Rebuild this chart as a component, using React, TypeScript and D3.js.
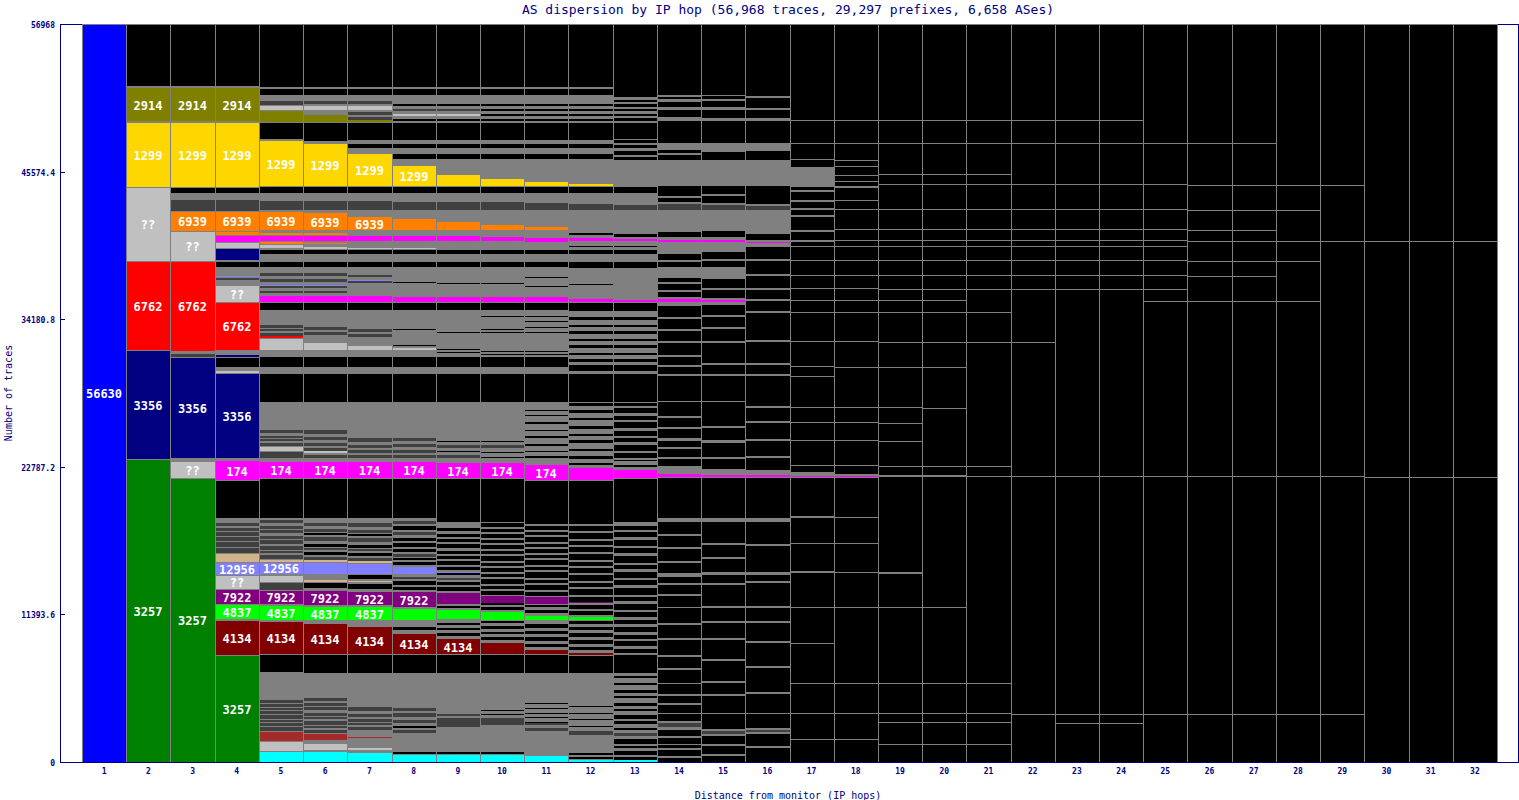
import React from "react";
import * as d3 from "d3";

type Seg = [number, string, string?];

const TITLE = "AS dispersion by IP hop (56,968 traces, 29,297 prefixes, 6,658 ASes)";
const X_LABEL = "Distance from monitor (IP hops)";
const Y_LABEL = "Number of traces";
const HOP_TOTAL = 56630;
const Y_TICK_LABELS = ["0", "11393.6", "22787.2", "34180.8", "45574.4", "56968"];
const HOPS = ["1","2","3","4","5","6","7","8","9","10","11","12","13","14","15","16","17","18","19","20","21","22","23","24","25","26","27","28","29","30","31","32"];

const COLORS: Record<string, string> = {
  B: "#0000ff", G: "#008000", N: "#000080", R: "#ff0000", L: "#c0c0c0", Y: "#ffd700",
  O: "#808000", o: "#ff8000", m: "#ff00ff", r: "#800000", l: "#00ff00", p: "#800080",
  v: "#8080ff", t: "#d2b48c", b: "#a52a2a", c: "#00ffff", d: "#404040", g: "#808080", K: "#000000",
};

// segments per hop, bottom to top: [traces, colour key, label]
const hop1: Seg[] = [[56630, "B", "56630"]];
const hop2: Seg[] = [[23249,"G","3257"],[8364,"N","3356"],[6829,"R","6762"],[5678,"L","??"],[4911,"Y","1299"],[153,"g"],[2532,"O","2914"],[153,"g"]];
const hop3: Seg[] = [[21791,"G","3257"],[1228,"L","??"],[307,"g"],[7750,"N","3356"],[230,"d"],[230,"g"],[6906,"R","6762"],[2302,"L","??"],[1535,"o","6939"],[844,"d"],[537,"g"],[460,"K"],[4911,"Y","1299"],[153,"g"],[2532,"O","2914"],[153,"g"]];
const hop4: Seg[] = [[8210,"G","3257"],[2609,"r","4134"],[153,"g"],[1074,"l","4837"],[77,"g"],[1151,"p","7922"],[1074,"L","??"],[997,"v","12956"],[691,"t"],[460,"d"],[460,"d"],[384,"d"],[384,"d"],[230,"d"],[153,"g"],[230,"d"],[153,"g"],[230,"g"],[2916,"K"],[1458,"m","174"],[230,"g"],[6522,"N","3356"],[153,"L"],[307,"g"],[767,"K"],[153,"N"],[384,"g"],[3683,"R","6762"],[1228,"L","??"],[460,"g"],[230,"d"],[77,"v"],[691,"g"],[384,"K"],[153,"g"],[921,"N"],[460,"L"],[537,"m"],[230,"o"],[77,"g"],[1535,"o","6939"],[844,"d"],[537,"g"],[460,"K"],[4911,"Y","1299"],[153,"g"],[2532,"O","2914"],[153,"g"]];
const hop5: Seg[] = [[844,"c"],[767,"L"],[767,"b"],[384,"d"],[307,"d"],[230,"d"],[384,"d"],[307,"d"],[230,"d"],[307,"d"],[230,"d"],[230,"g"],[1918,"g"],[1381,"K"],[2455,"r","4134"],[153,"g"],[1074,"l","4837"],[153,"g"],[1074,"p","7922"],[614,"d"],[460,"L"],[153,"g"],[921,"v","12956"],[230,"t"],[307,"d"],[153,"g"],[230,"d"],[307,"d"],[153,"g"],[384,"d"],[230,"d"],[230,"g"],[307,"d"],[230,"d"],[230,"g"],[230,"d"],[153,"g"],[3069,"K"],[1228,"m","174"],[307,"g"],[537,"d"],[384,"L"],[230,"d"],[153,"g"],[230,"d"],[153,"d"],[230,"g"],[230,"d"],[230,"g"],[1918,"g"],[2148,"K"],[537,"g"],[767,"K"],[537,"g"],[921,"L"],[153,"R"],[230,"d"],[153,"g"],[230,"d"],[230,"d"],[230,"g"],[921,"g"],[614,"K"],[460,"m"],[230,"g"],[153,"d"],[230,"g"],[153,"d"],[77,"v"],[230,"g"],[230,"d"],[230,"g"],[230,"d"],[460,"g"],[384,"K"],[614,"g"],[307,"K"],[153,"g"],[230,"L"],[77,"g"],[153,"o"],[77,"g"],[384,"m"],[77,"g"],[153,"o"],[230,"g"],[1381,"o","6939"],[153,"g"],[691,"d"],[614,"g"],[460,"K"],[77,"g"],[3453,"Y","1299"],[153,"g"],[1228,"K"],[77,"g"],[844,"O"],[77,"g"],[384,"L"],[307,"d"],[460,"g"],[460,"K"],[153,"g"]];
const hop6: Seg[] = [[767,"c"],[153,"g"],[460,"L"],[307,"g"],[537,"b"],[230,"d"],[153,"g"],[230,"d"],[307,"d"],[153,"g"],[230,"d"],[230,"d"],[230,"g"],[307,"d"],[230,"d"],[153,"g"],[230,"d"],[1918,"g"],[1458,"K"],[2302,"r","4134"],[307,"g"],[997,"l","4837"],[153,"g"],[1074,"p","7922"],[230,"g"],[460,"K"],[153,"t"],[460,"g"],[921,"v"],[153,"t"],[230,"d"],[153,"g"],[230,"K"],[153,"g"],[230,"d"],[230,"K"],[230,"g"],[307,"d"],[153,"g"],[230,"K"],[230,"d"],[230,"g"],[230,"d"],[153,"g"],[230,"g"],[3069,"K"],[1228,"m","174"],[307,"g"],[230,"d"],[153,"g"],[153,"L"],[230,"d"],[153,"g"],[230,"d"],[230,"g"],[230,"d"],[230,"g"],[307,"d"],[230,"g"],[1918,"g"],[2148,"K"],[537,"g"],[767,"K"],[537,"g"],[537,"L"],[614,"g"],[230,"d"],[153,"g"],[230,"d"],[1304,"g"],[614,"K"],[460,"m"],[230,"g"],[153,"d"],[230,"g"],[153,"d"],[77,"v"],[230,"g"],[230,"d"],[230,"g"],[230,"d"],[460,"g"],[384,"K"],[614,"g"],[307,"K"],[77,"g"],[153,"L"],[230,"g"],[77,"o"],[153,"g"],[384,"m"],[77,"g"],[153,"o"],[230,"g"],[1304,"o","6939"],[230,"g"],[691,"d"],[614,"g"],[460,"K"],[77,"g"],[3223,"Y","1299"],[230,"g"],[1381,"K"],[77,"g"],[537,"O"],[384,"g"],[307,"L"],[153,"g"],[230,"d"],[460,"g"],[460,"K"],[153,"g"]];
const hop7: Seg[] = [[691,"c"],[230,"g"],[153,"L"],[767,"g"],[77,"b"],[537,"g"],[230,"d"],[153,"g"],[230,"d"],[230,"d"],[153,"g"],[230,"d"],[230,"g"],[307,"d"],[2609,"g"],[1458,"K"],[2072,"r","4134"],[537,"g"],[997,"l","4837"],[153,"g"],[997,"p","7922"],[230,"g"],[384,"K"],[153,"g"],[77,"t"],[153,"g"],[307,"K"],[77,"g"],[767,"v"],[77,"g"],[153,"t"],[230,"d"],[153,"g"],[230,"K"],[153,"g"],[230,"d"],[230,"K"],[230,"g"],[307,"d"],[153,"g"],[230,"K"],[230,"d"],[230,"g"],[307,"d"],[153,"g"],[230,"g"],[3069,"K"],[1228,"m","174"],[307,"g"],[230,"d"],[153,"g"],[230,"d"],[153,"g"],[230,"d"],[230,"g"],[307,"d"],[2762,"g"],[2148,"K"],[537,"g"],[767,"K"],[537,"g"],[307,"L"],[691,"g"],[230,"d"],[153,"g"],[230,"d"],[153,"g"],[1304,"g"],[614,"K"],[460,"m"],[997,"g"],[153,"d"],[77,"v"],[230,"g"],[153,"d"],[153,"g"],[460,"g"],[384,"K"],[614,"g"],[307,"K"],[77,"g"],[77,"L"],[537,"g"],[384,"m"],[460,"g"],[997,"o","6939"],[537,"g"],[691,"d"],[614,"g"],[460,"K"],[77,"g"],[2455,"Y","1299"],[460,"g"],[307,"K"],[307,"g"],[1304,"K"],[77,"g"],[153,"O"],[230,"d"],[153,"g"],[230,"d"],[153,"g"],[307,"L"],[153,"g"],[230,"d"],[460,"g"],[460,"K"],[153,"g"]];
const hop8: Seg[] = [[614,"c"],[153,"K"],[1458,"g"],[230,"d"],[153,"g"],[153,"K"],[230,"g"],[230,"d"],[230,"g"],[307,"d"],[153,"g"],[230,"d"],[2686,"g"],[1458,"K"],[1535,"r","4134"],[307,"g"],[230,"K"],[537,"g"],[844,"l"],[153,"g"],[1151,"p","7922"],[153,"g"],[230,"K"],[153,"g"],[307,"K"],[153,"g"],[153,"d"],[230,"g"],[537,"v"],[153,"g"],[230,"K"],[153,"g"],[230,"K"],[230,"d"],[153,"g"],[230,"K"],[153,"g"],[307,"K"],[153,"g"],[230,"K"],[230,"g"],[230,"d"],[153,"g"],[307,"K"],[153,"g"],[230,"d"],[230,"g"],[3069,"K"],[1228,"m","174"],[307,"g"],[230,"d"],[153,"g"],[230,"d"],[230,"g"],[230,"d"],[230,"g"],[230,"d"],[2762,"g"],[2148,"K"],[537,"g"],[767,"K"],[537,"g"],[153,"L"],[153,"g"],[77,"K"],[153,"g"],[997,"g"],[77,"K"],[1458,"g"],[614,"K"],[384,"m"],[1074,"g"],[77,"K"],[230,"g"],[921,"g"],[384,"K"],[614,"g"],[307,"K"],[77,"g"],[77,"L"],[537,"g"],[384,"m"],[460,"g"],[844,"o"],[691,"g"],[614,"d"],[691,"g"],[460,"K"],[77,"g"],[1535,"Y","1299"],[537,"g"],[384,"K"],[460,"g"],[307,"K"],[307,"g"],[1304,"K"],[153,"g"],[153,"K"],[230,"g"],[153,"L"],[230,"g"],[153,"d"],[230,"g"],[153,"K"],[230,"g"],[460,"g"],[460,"K"],[153,"g"]];
const hop9: Seg[] = [[614,"c"],[153,"K"],[1842,"g"],[77,"g"],[691,"d"],[153,"g"],[153,"d"],[153,"g"],[2992,"g"],[1458,"K"],[1151,"r","4134"],[230,"g"],[230,"K"],[230,"g"],[153,"K"],[230,"g"],[153,"K"],[307,"g"],[691,"l"],[153,"g"],[153,"K"],[153,"g"],[844,"p"],[153,"g"],[307,"K"],[153,"g"],[230,"K"],[153,"g"],[153,"d"],[230,"g"],[153,"K"],[77,"v"],[153,"g"],[230,"K"],[153,"g"],[307,"K"],[153,"g"],[230,"K"],[153,"g"],[230,"K"],[230,"g"],[307,"K"],[153,"g"],[230,"K"],[153,"g"],[230,"K"],[230,"g"],[230,"K"],[460,"g"],[3376,"K"],[1151,"m","174"],[384,"g"],[230,"d"],[230,"g"],[77,"K"],[230,"g"],[230,"d"],[230,"g"],[77,"K"],[307,"g"],[2686,"g"],[2148,"K"],[537,"g"],[767,"K"],[307,"g"],[77,"K"],[153,"g"],[77,"K"],[307,"g"],[921,"g"],[77,"K"],[153,"g"],[1535,"g"],[614,"K"],[384,"m"],[997,"g"],[77,"K"],[230,"g"],[997,"g"],[384,"K"],[614,"g"],[307,"K"],[691,"g"],[384,"m"],[460,"g"],[614,"o"],[921,"g"],[614,"d"],[691,"g"],[460,"K"],[77,"g"],[844,"Y"],[1228,"g"],[384,"K"],[460,"g"],[307,"K"],[307,"g"],[1304,"K"],[153,"g"],[153,"K"],[230,"g"],[153,"L"],[230,"g"],[153,"d"],[230,"g"],[153,"K"],[230,"g"],[460,"g"],[460,"K"],[153,"g"]];
const hop10: Seg[] = [[537,"c"],[77,"g"],[153,"K"],[2072,"g"],[537,"d"],[230,"g"],[77,"K"],[230,"g"],[77,"K"],[307,"g"],[2532,"g"],[1458,"K"],[844,"r"],[230,"g"],[230,"K"],[230,"g"],[153,"K"],[230,"g"],[230,"K"],[230,"g"],[230,"K"],[614,"l"],[153,"g"],[230,"K"],[153,"g"],[153,"K"],[614,"p"],[307,"K"],[153,"g"],[230,"K"],[153,"g"],[384,"K"],[153,"g"],[230,"K"],[153,"g"],[307,"K"],[153,"g"],[230,"K"],[153,"g"],[384,"K"],[153,"g"],[230,"K"],[153,"g"],[307,"K"],[153,"g"],[230,"K"],[153,"g"],[307,"K"],[153,"g"],[230,"K"],[153,"g"],[307,"K"],[77,"g"],[3376,"K"],[1151,"m","174"],[384,"g"],[77,"K"],[307,"g"],[77,"K"],[307,"g"],[230,"d"],[230,"g"],[77,"K"],[460,"g"],[2532,"g"],[2148,"K"],[537,"g"],[767,"K"],[153,"g"],[77,"K"],[153,"g"],[77,"K"],[307,"g"],[1074,"g"],[77,"K"],[153,"g"],[77,"K"],[230,"g"],[691,"g"],[77,"K"],[460,"g"],[614,"K"],[384,"m"],[997,"g"],[77,"K"],[230,"g"],[997,"g"],[384,"K"],[614,"g"],[307,"K"],[691,"g"],[307,"m"],[537,"g"],[384,"o"],[1151,"g"],[614,"d"],[691,"g"],[460,"K"],[77,"g"],[537,"Y"],[1535,"g"],[384,"K"],[460,"g"],[307,"K"],[307,"g"],[1304,"K"],[153,"g"],[153,"K"],[230,"g"],[153,"K"],[230,"g"],[153,"K"],[230,"g"],[153,"K"],[230,"g"],[460,"g"],[460,"K"],[153,"g"]];
const hop11: Seg[] = [[460,"c"],[1918,"g"],[230,"d"],[230,"g"],[153,"d"],[77,"K"],[307,"g"],[77,"K"],[230,"g"],[77,"K"],[307,"g"],[77,"K"],[307,"g"],[77,"K"],[230,"g"],[2072,"g"],[1458,"K"],[307,"r"],[230,"g"],[230,"K"],[230,"g"],[307,"K"],[230,"g"],[230,"K"],[230,"g"],[307,"K"],[307,"g"],[307,"l"],[230,"g"],[230,"K"],[230,"g"],[230,"K"],[614,"p"],[307,"K"],[153,"g"],[384,"K"],[153,"g"],[230,"K"],[153,"g"],[460,"K"],[153,"g"],[230,"K"],[153,"g"],[384,"K"],[153,"g"],[230,"K"],[153,"g"],[307,"K"],[153,"g"],[230,"K"],[153,"g"],[384,"K"],[153,"g"],[230,"K"],[153,"g"],[307,"K"],[153,"g"],[153,"K"],[3223,"K"],[1151,"m","174"],[537,"g"],[153,"K"],[307,"g"],[77,"K"],[384,"g"],[153,"K"],[460,"g"],[153,"K"],[384,"g"],[77,"K"],[460,"g"],[153,"K"],[460,"g"],[77,"K"],[307,"g"],[77,"K"],[614,"g"],[2148,"K"],[537,"g"],[767,"K"],[153,"g"],[77,"K"],[153,"g"],[77,"K"],[307,"g"],[1074,"g"],[77,"K"],[307,"g"],[77,"K"],[384,"g"],[77,"K"],[307,"g"],[77,"K"],[460,"g"],[614,"K"],[384,"m"],[767,"g"],[77,"K"],[614,"g"],[77,"K"],[767,"g"],[384,"K"],[614,"g"],[307,"K"],[614,"g"],[307,"m"],[614,"g"],[230,"o"],[1304,"g"],[537,"d"],[767,"g"],[460,"K"],[77,"g"],[307,"Y"],[1765,"g"],[384,"K"],[460,"g"],[307,"K"],[307,"g"],[1304,"K"],[153,"g"],[153,"K"],[230,"g"],[153,"K"],[230,"g"],[153,"K"],[230,"g"],[153,"K"],[230,"g"],[460,"g"],[460,"K"],[153,"g"]];
const hop12: Seg[] = [[230,"c"],[153,"K"],[153,"g"],[153,"K"],[230,"g"],[1151,"g"],[307,"d"],[307,"g"],[77,"K"],[460,"g"],[77,"K"],[384,"g"],[77,"K"],[460,"g"],[77,"K"],[460,"g"],[2072,"g"],[1381,"K"],[153,"r"],[230,"g"],[230,"K"],[230,"g"],[307,"K"],[230,"g"],[307,"K"],[230,"g"],[230,"K"],[230,"g"],[307,"K"],[230,"l"],[153,"g"],[307,"K"],[153,"g"],[307,"K"],[153,"g"],[77,"p"],[384,"K"],[153,"g"],[460,"K"],[153,"g"],[307,"K"],[153,"g"],[460,"K"],[153,"g"],[384,"K"],[153,"g"],[307,"K"],[153,"g"],[460,"K"],[153,"g"],[384,"K"],[153,"g"],[307,"K"],[153,"g"],[460,"K"],[153,"g"],[384,"K"],[153,"g"],[153,"K"],[3223,"K"],[921,"m"],[230,"g"],[153,"K"],[307,"g"],[230,"K"],[384,"g"],[153,"K"],[460,"g"],[230,"K"],[307,"g"],[153,"K"],[384,"g"],[230,"K"],[460,"g"],[153,"K"],[384,"g"],[230,"K"],[307,"g"],[307,"K"],[2148,"K"],[230,"g"],[460,"K"],[230,"g"],[230,"K"],[307,"g"],[153,"K"],[384,"g"],[230,"K"],[307,"g"],[153,"K"],[384,"g"],[230,"K"],[307,"g"],[153,"K"],[384,"g"],[230,"K"],[460,"g"],[77,"K"],[614,"K"],[230,"m"],[1074,"g"],[77,"K"],[1228,"g"],[460,"K"],[614,"g"],[307,"K"],[230,"g"],[77,"K"],[384,"g"],[230,"m"],[230,"g"],[153,"K"],[230,"g"],[1535,"g"],[460,"d"],[844,"g"],[460,"K"],[77,"g"],[153,"Y"],[1918,"g"],[384,"K"],[460,"g"],[307,"K"],[307,"g"],[1304,"K"],[153,"g"],[153,"K"],[230,"g"],[153,"K"],[230,"g"],[153,"K"],[230,"g"],[153,"K"],[230,"g"],[460,"g"],[460,"K"],[153,"g"]];
const hop13: Seg[] = [[153,"c"],[230,"K"],[153,"g"],[307,"K"],[230,"g"],[153,"K"],[153,"g"],[384,"K"],[230,"g"],[230,"d"],[230,"g"],[153,"K"],[307,"g"],[230,"K"],[153,"g"],[307,"K"],[307,"g"],[153,"K"],[230,"g"],[230,"K"],[384,"g"],[153,"K"],[230,"g"],[230,"K"],[384,"g"],[153,"K"],[384,"g"],[153,"K"],[230,"g"],[1381,"K"],[153,"g"],[307,"K"],[230,"g"],[384,"K"],[153,"g"],[307,"K"],[230,"g"],[384,"K"],[230,"g"],[307,"K"],[230,"g"],[384,"K"],[153,"g"],[460,"K"],[230,"g"],[307,"K"],[153,"g"],[537,"K"],[230,"g"],[384,"K"],[153,"g"],[460,"K"],[230,"g"],[307,"K"],[153,"g"],[537,"K"],[230,"g"],[384,"K"],[153,"g"],[460,"K"],[230,"g"],[384,"K"],[153,"g"],[307,"K"],[307,"g"],[3376,"K"],[614,"m"],[230,"g"],[153,"K"],[307,"g"],[77,"K"],[153,"g"],[384,"K"],[153,"g"],[460,"K"],[230,"g"],[307,"K"],[153,"g"],[384,"K"],[230,"g"],[460,"K"],[153,"g"],[307,"K"],[230,"g"],[384,"K"],[153,"g"],[307,"K"],[2148,"K"],[230,"g"],[460,"K"],[230,"g"],[230,"K"],[307,"g"],[153,"K"],[384,"g"],[230,"K"],[307,"g"],[153,"K"],[384,"g"],[230,"K"],[307,"g"],[153,"K"],[384,"g"],[230,"K"],[460,"g"],[77,"K"],[614,"K"],[153,"m"],[2455,"g"],[460,"K"],[614,"g"],[307,"K"],[230,"g"],[77,"K"],[384,"g"],[153,"m"],[153,"g"],[230,"K"],[307,"g"],[1535,"g"],[384,"d"],[921,"g"],[460,"K"],[2072,"g"],[230,"K"],[153,"g"],[307,"K"],[230,"g"],[230,"K"],[153,"g"],[307,"K"],[1228,"K"],[153,"g"],[230,"K"],[153,"g"],[153,"K"],[230,"g"],[153,"K"],[153,"g"],[230,"K"],[153,"g"],[153,"K"],[230,"g"]];
const hop14: Seg[] = [[307,"K"],[153,"g"],[460,"K"],[153,"g"],[230,"K"],[77,"g"],[460,"K"],[153,"g"],[460,"K"],[230,"g"],[307,"d"],[153,"g"],[537,"K"],[77,"g"],[614,"K"],[153,"g"],[537,"K"],[153,"g"],[767,"K"],[77,"g"],[997,"K"],[153,"g"],[844,"K"],[153,"g"],[1151,"K"],[153,"g"],[997,"K"],[153,"g"],[1151,"K"],[77,"g"],[844,"K"],[153,"g"],[691,"K"],[153,"g"],[460,"K"],[307,"g"],[767,"K"],[153,"g"],[921,"K"],[153,"g"],[844,"K"],[153,"g"],[921,"K"],[307,"g"],[3146,"K"],[230,"m"],[614,"g"],[537,"K"],[153,"g"],[614,"K"],[153,"g"],[460,"K"],[230,"g"],[691,"K"],[153,"g"],[691,"K"],[153,"g"],[1074,"K"],[77,"g"],[1918,"K"],[153,"g"],[537,"K"],[153,"g"],[614,"K"],[153,"g"],[921,"K"],[153,"g"],[767,"K"],[153,"g"],[767,"K"],[153,"g"],[844,"K"],[307,"g"],[230,"m"],[153,"g"],[384,"K"],[153,"g"],[460,"K"],[153,"g"],[307,"K"],[844,"g"],[384,"K"],[153,"g"],[460,"K"],[921,"g"],[153,"m"],[230,"g"],[384,"K"],[1688,"g"],[460,"d"],[153,"g"],[307,"K"],[153,"g"],[767,"K"],[1995,"g"],[384,"K"],[153,"g"],[230,"K"],[537,"g"],[1688,"K"],[307,"g"],[537,"K"],[230,"g"],[384,"K"],[230,"g"],[153,"K"],[153,"g"]];
const hop15: Seg[] = [[460,"K"],[153,"g"],[614,"K"],[153,"g"],[614,"K"],[153,"g"],[230,"d"],[153,"g"],[1151,"K"],[77,"g"],[1304,"K"],[153,"g"],[844,"K"],[153,"g"],[1535,"K"],[153,"g"],[1458,"K"],[153,"g"],[1151,"K"],[153,"g"],[997,"K"],[153,"g"],[1611,"K"],[153,"g"],[614,"K"],[230,"g"],[997,"K"],[153,"g"],[921,"K"],[153,"g"],[1611,"K"],[307,"g"],[3146,"K"],[153,"m"],[460,"g"],[767,"K"],[153,"g"],[1074,"K"],[230,"g"],[921,"K"],[153,"g"],[1842,"K"],[77,"g"],[1918,"K"],[153,"g"],[691,"K"],[153,"g"],[1535,"K"],[153,"g"],[921,"K"],[153,"g"],[767,"K"],[153,"g"],[767,"K"],[230,"g"],[153,"m"],[153,"g"],[614,"K"],[153,"g"],[691,"K"],[921,"g"],[460,"K"],[153,"g"],[537,"K"],[767,"g"],[153,"m"],[230,"g"],[460,"K"],[1611,"g"],[384,"d"],[153,"g"],[537,"K"],[153,"g"],[614,"K"],[1995,"g"],[614,"K"],[691,"g"],[1688,"K"],[230,"g"],[614,"K"],[230,"g"],[460,"K"],[153,"g"],[230,"K"],[77,"g"]];
const hop16: Seg[] = [[1074,"K"],[153,"g"],[921,"K"],[153,"g"],[153,"d"],[153,"g"],[1074,"K"],[77,"g"],[1458,"K"],[153,"g"],[1842,"K"],[153,"g"],[1765,"K"],[153,"g"],[1381,"K"],[153,"g"],[997,"K"],[153,"g"],[1765,"K"],[153,"g"],[460,"K"],[230,"g"],[1995,"K"],[153,"g"],[1688,"K"],[307,"g"],[3146,"K"],[153,"m"],[384,"g"],[921,"K"],[153,"g"],[1151,"K"],[153,"g"],[1228,"K"],[153,"g"],[997,"K"],[153,"g"],[2302,"K"],[153,"g"],[691,"K"],[153,"g"],[1611,"K"],[153,"g"],[2072,"K"],[153,"g"],[767,"K"],[153,"g"],[691,"K"],[153,"g"],[921,"K"],[153,"g"],[997,"K"],[153,"g"],[921,"K"],[307,"g"],[77,"m"],[153,"g"],[460,"K"],[1842,"g"],[307,"d"],[153,"g"],[1381,"K"],[1995,"g"],[691,"K"],[614,"g"],[1688,"K"],[230,"g"],[614,"K"],[153,"g"],[767,"K"],[153,"g"]];
const hop17: Seg[] = [[1688,"K"],[77,"g"],[1918,"K"],[77,"g"],[2225,"K"],[77,"g"],[2992,"K"],[77,"g"],[2686,"K"],[77,"g"],[2609,"K"],[153,"g"],[2072,"K"],[77,"g"],[1918,"K"],[153,"g"],[2992,"K"],[77,"m"],[307,"g"],[460,"K"],[77,"g"],[1842,"K"],[77,"g"],[1304,"K"],[77,"g"],[1074,"K"],[77,"g"],[2302,"K"],[77,"g"],[691,"K"],[77,"g"],[1842,"K"],[77,"g"],[2148,"K"],[77,"g"],[844,"K"],[77,"g"],[844,"K"],[77,"g"],[921,"K"],[77,"g"],[1074,"K"],[77,"g"],[997,"K"],[77,"g"],[307,"K"],[153,"g"],[614,"K"],[153,"g"],[997,"K"],[153,"g"],[384,"K"],[153,"g"],[460,"K"],[153,"g"],[614,"K"],[153,"g"],[230,"K"],[1535,"g"],[537,"K"],[77,"g"],[1151,"K"],[77,"g"],[1688,"K"],[77,"g"]];
const hop18: Seg[] = [[1688,"K"],[77,"g"],[1918,"K"],[77,"g"],[2225,"K"],[77,"g"],[5755,"K"],[77,"g"],[2609,"K"],[77,"g"],[2148,"K"],[77,"g"],[1918,"K"],[77,"g"],[3069,"K"],[77,"m"],[153,"g"],[614,"K"],[77,"g"],[1842,"K"],[77,"g"],[1304,"K"],[77,"g"],[1074,"K"],[77,"g"],[2992,"K"],[77,"g"],[1918,"K"],[77,"g"],[2148,"K"],[77,"g"],[844,"K"],[77,"g"],[844,"K"],[77,"g"],[921,"K"],[77,"g"],[1074,"K"],[77,"g"],[997,"K"],[77,"g"],[384,"K"],[77,"g"],[767,"K"],[77,"g"],[1458,"K"],[77,"g"],[614,"K"],[77,"g"],[921,"K"],[153,"g"],[307,"K"],[77,"g"],[384,"K"],[77,"g"],[614,"K"],[77,"g"],[384,"K"],[77,"g"],[1228,"K"],[77,"g"],[1688,"K"],[77,"g"]];
const hop19: Seg[] = [[1304,"K"],[77,"g"],[1611,"K"],[77,"g"],[614,"K"],[77,"g"],[2225,"K"],[77,"g"],[5755,"K"],[77,"g"],[2532,"K"],[153,"g"],[7289,"K"],[153,"g"],[614,"K"],[77,"g"],[1842,"K"],[77,"g"],[1304,"K"],[77,"g"],[1151,"K"],[77,"g"],[2992,"K"],[77,"g"],[1842,"K"],[77,"g"],[2225,"K"],[77,"g"],[844,"K"],[77,"g"],[767,"K"],[77,"g"],[997,"K"],[77,"g"],[1074,"K"],[77,"g"],[997,"K"],[77,"g"],[384,"K"],[77,"g"],[767,"K"],[77,"g"],[1458,"K"],[77,"g"],[1842,"K"],[77,"g"],[691,"K"],[77,"g"],[2302,"K"],[77,"g"],[1688,"K"],[77,"g"]];
const hop20: Seg[] = [[1304,"K"],[77,"g"],[1611,"K"],[77,"g"],[614,"K"],[77,"g"],[2225,"K"],[77,"g"],[5755,"K"],[77,"g"],[9975,"K"],[153,"g"],[614,"K"],[77,"g"],[4374,"K"],[77,"g"],[3069,"K"],[77,"g"],[1842,"K"],[77,"g"],[2225,"K"],[77,"g"],[844,"K"],[77,"g"],[767,"K"],[77,"g"],[997,"K"],[77,"g"],[1074,"K"],[77,"g"],[997,"K"],[77,"g"],[384,"K"],[77,"g"],[767,"K"],[77,"g"],[1458,"K"],[77,"g"],[1842,"K"],[77,"g"],[691,"K"],[77,"g"],[2302,"K"],[77,"g"],[1688,"K"],[77,"g"]];
const hop21: Seg[] = [[1304,"K"],[77,"g"],[1611,"K"],[77,"g"],[614,"K"],[77,"g"],[2225,"K"],[77,"g"],[15806,"K"],[77,"g"],[691,"K"],[77,"g"],[9438,"K"],[77,"g"],[2225,"K"],[77,"g"],[1688,"K"],[77,"g"],[997,"K"],[77,"g"],[1074,"K"],[77,"g"],[997,"K"],[77,"g"],[384,"K"],[77,"g"],[767,"K"],[77,"g"],[1458,"K"],[77,"g"],[1842,"K"],[77,"g"],[691,"K"],[77,"g"],[2302,"K"],[77,"g"],[1688,"K"],[77,"g"]];
const hop22: Seg[] = [[3606,"K"],[77,"g"],[18185,"K"],[77,"g"],[10205,"K"],[77,"g"],[4000,"K"],[77,"g"],[997,"K"],[77,"g"],[1074,"K"],[77,"g"],[997,"K"],[77,"g"],[384,"K"],[77,"g"],[767,"K"],[77,"g"],[1458,"K"],[77,"g"],[1842,"K"],[77,"g"],[3069,"K"],[77,"g"],[1688,"K"],[77,"g"]];
const hop23: Seg[] = [[2916,"K"],[77,"g"],[614,"K"],[77,"g"],[18185,"K"],[77,"g"],[14272,"K"],[77,"g"],[997,"K"],[77,"g"],[1074,"K"],[77,"g"],[997,"K"],[77,"g"],[384,"K"],[77,"g"],[767,"K"],[77,"g"],[1458,"K"],[77,"g"],[1842,"K"],[77,"g"],[3069,"K"],[77,"g"],[1688,"K"],[77,"g"]];
const hop24: Seg[] = [[2916,"K"],[77,"g"],[614,"K"],[77,"g"],[18185,"K"],[77,"g"],[14272,"K"],[77,"g"],[997,"K"],[77,"g"],[1074,"K"],[77,"g"],[997,"K"],[77,"g"],[384,"K"],[77,"g"],[767,"K"],[77,"g"],[1458,"K"],[77,"g"],[1842,"K"],[77,"g"],[3069,"K"],[77,"g"],[1688,"K"],[77,"g"]];
const hop25: Seg[] = [[3606,"K"],[77,"g"],[18185,"K"],[77,"g"],[13351,"K"],[77,"g"],[844,"K"],[77,"g"],[997,"K"],[77,"g"],[1074,"K"],[77,"g"],[997,"K"],[77,"g"],[384,"K"],[77,"g"],[767,"K"],[77,"g"],[1458,"K"],[77,"g"],[1842,"K"],[77,"g"],[3069,"K"],[77,"g"]];
const hop26: Seg[] = [[3606,"K"],[77,"g"],[18185,"K"],[77,"g"],[13351,"K"],[77,"g"],[1842,"K"],[77,"g"],[1074,"K"],[77,"g"],[1458,"K"],[77,"g"],[767,"K"],[77,"g"],[1458,"K"],[77,"g"],[1842,"K"],[77,"g"],[3146,"K"],[77,"g"]];
const hop27: Seg[] = [[3606,"K"],[77,"g"],[18185,"K"],[77,"g"],[13351,"K"],[77,"g"],[1842,"K"],[77,"g"],[1074,"K"],[77,"g"],[1458,"K"],[77,"g"],[767,"K"],[77,"g"],[1458,"K"],[77,"g"],[1842,"K"],[77,"g"],[3146,"K"],[77,"g"]];
const hop28: Seg[] = [[3606,"K"],[77,"g"],[18185,"K"],[77,"g"],[13351,"K"],[77,"g"],[2992,"K"],[77,"g"],[1458,"K"],[77,"g"],[2302,"K"],[77,"g"],[1842,"K"],[77,"g"]];
const hop29: Seg[] = [[3606,"K"],[77,"g"],[18185,"K"],[77,"g"],[17955,"K"],[77,"g"],[4220,"K"],[77,"g"]];
const hop30: Seg[] = [[21791,"K"],[77,"g"],[18032,"K"],[77,"g"]];
const hop31: Seg[] = [[21791,"K"],[77,"g"],[18032,"K"],[77,"g"]];
const hop32: Seg[] = [[21791,"K"],[77,"g"],[18032,"K"],[77,"g"]];

const COLUMNS: Seg[][] = [hop1,hop2,hop3,hop4,hop5,hop6,hop7,hop8,hop9,hop10,hop11,hop12,hop13,hop14,hop15,hop16,hop17,hop18,hop19,hop20,hop21,hop22,hop23,hop24,hop25,hop26,hop27,hop28,hop29,hop30,hop31,hop32];

const AXIS = "#000080";
const GRID = "#808080";
const MONO = "'DejaVu Sans Mono', 'Liberation Mono', monospace";

export default function App() {
  const W = 1519, H = 800;
  const left = 60, right = 1518, top = 24, bottom = 762;
  const x = d3.scaleBand<string>().domain(HOPS).range([82, 1497]).padding(0);
  const y = d3.scaleLinear().domain([0, HOP_TOTAL]).range([bottom, top]);

  const fills: JSX.Element[] = [];
  const seps: JSX.Element[] = [];
  const labels: JSX.Element[] = [];
  const bgs: JSX.Element[] = [];
  const vlines: JSX.Element[] = [];

  COLUMNS.forEach((segs, i) => {
    const hop = HOPS[i];
    const x0 = Math.round(x(hop)!);
    const x1 = Math.round(x(hop)! + x.bandwidth());
    bgs.push(<rect key={"bg" + i} x={x0} y={top} width={x1 - x0} height={bottom - top} fill="#000" />);
    vlines.push(<rect key={"vl" + i} x={x0} y={top} width={1} height={bottom - top} fill={GRID} />);
    let cum = 0;
    const boxes = segs.map(([v, code, label]) => {
      const b = { y0: Math.round(y(cum + v)), y1: Math.round(y(cum)), code, label };
      cum += v;
      return b;
    });
    boxes.forEach((b, j) => {
      const h = b.y1 - b.y0;
      if (h <= 0) return;
      fills.push(<rect key={`f${i}-${j}`} x={x0} y={b.y0} width={x1 - x0} height={h} fill={COLORS[b.code]} />);
      const next = boxes[j + 1];
      if (b.code !== "g" && h >= 3 && (!next || next.code !== "g")) {
        seps.push(<rect key={`s${i}-${j}`} x={x0} y={b.y0} width={x1 - x0} height={1} fill={GRID} />);
      }
      if (b.label) {
        labels.push(
          <text key={`t${i}-${j}`} x={(x0 + x1) / 2} y={(b.y0 + b.y1) / 2 + 1} fill="#fff" fontFamily={MONO}
            fontWeight="bold" fontSize={12} textAnchor="middle" dominantBaseline="central">{b.label}</text>
        );
      }
    });
  });
  vlines.push(<rect key="vlast" x={1497} y={top} width={1} height={bottom - top} fill={GRID} />);

  const tickVals = Y_TICK_LABELS.map((_, i) => (HOP_TOTAL * i) / (Y_TICK_LABELS.length - 1));

  return (
    <svg width={W} height={H} style={{ position: "absolute", left: 0, top: 0, display: "block" }} shapeRendering="crispEdges">
      <rect x={0} y={0} width={W} height={H} fill="#fff" />
      <text x={788} y={9} textAnchor="middle" dominantBaseline="central" fontFamily={MONO} fontSize={13} fill={AXIS}>{TITLE}</text>
      {bgs}
      {fills}
      {seps}
      {vlines}
      <rect x={82} y={top} width={1497 - 82} height={1} fill={GRID} />
      {labels}
      <rect x={left} y={top} width={1} height={bottom - top + 1} fill={AXIS} />
      <rect x={right} y={top} width={1} height={bottom - top + 1} fill={AXIS} />
      <rect x={left} y={bottom} width={right - left + 1} height={1} fill={AXIS} />
      <rect x={left} y={top} width={82 - left} height={1} fill={AXIS} />
      <rect x={1498} y={top} width={right - 1498} height={1} fill={AXIS} />
      {tickVals.map((v, i) => (
        <g key={"yt" + i}>
          <rect x={left} y={Math.round(y(v))} width={5} height={1} fill={AXIS} />
          <text x={55} y={Math.round(y(v)) + 1} textAnchor="end" dominantBaseline="central" fontFamily={MONO}
            fontWeight="bold" fontSize={8} fill={AXIS}>{Y_TICK_LABELS[i]}</text>
        </g>
      ))}
      {HOPS.map((h) => (
        <text key={"xt" + h} x={x(h)! + x.bandwidth() / 2} y={771} textAnchor="middle" dominantBaseline="central"
          fontFamily={MONO} fontWeight="bold" fontSize={8} fill={AXIS}>{h}</text>
      ))}
      <text x={788} y={795} textAnchor="middle" dominantBaseline="central" fontFamily={MONO} fontSize={10} fill={AXIS}>{X_LABEL}</text>
      <text transform="translate(8,393) rotate(-90)" textAnchor="middle" dominantBaseline="central" fontFamily={MONO}
        fontSize={10} fill={AXIS}>{Y_LABEL}</text>
    </svg>
  );
}
